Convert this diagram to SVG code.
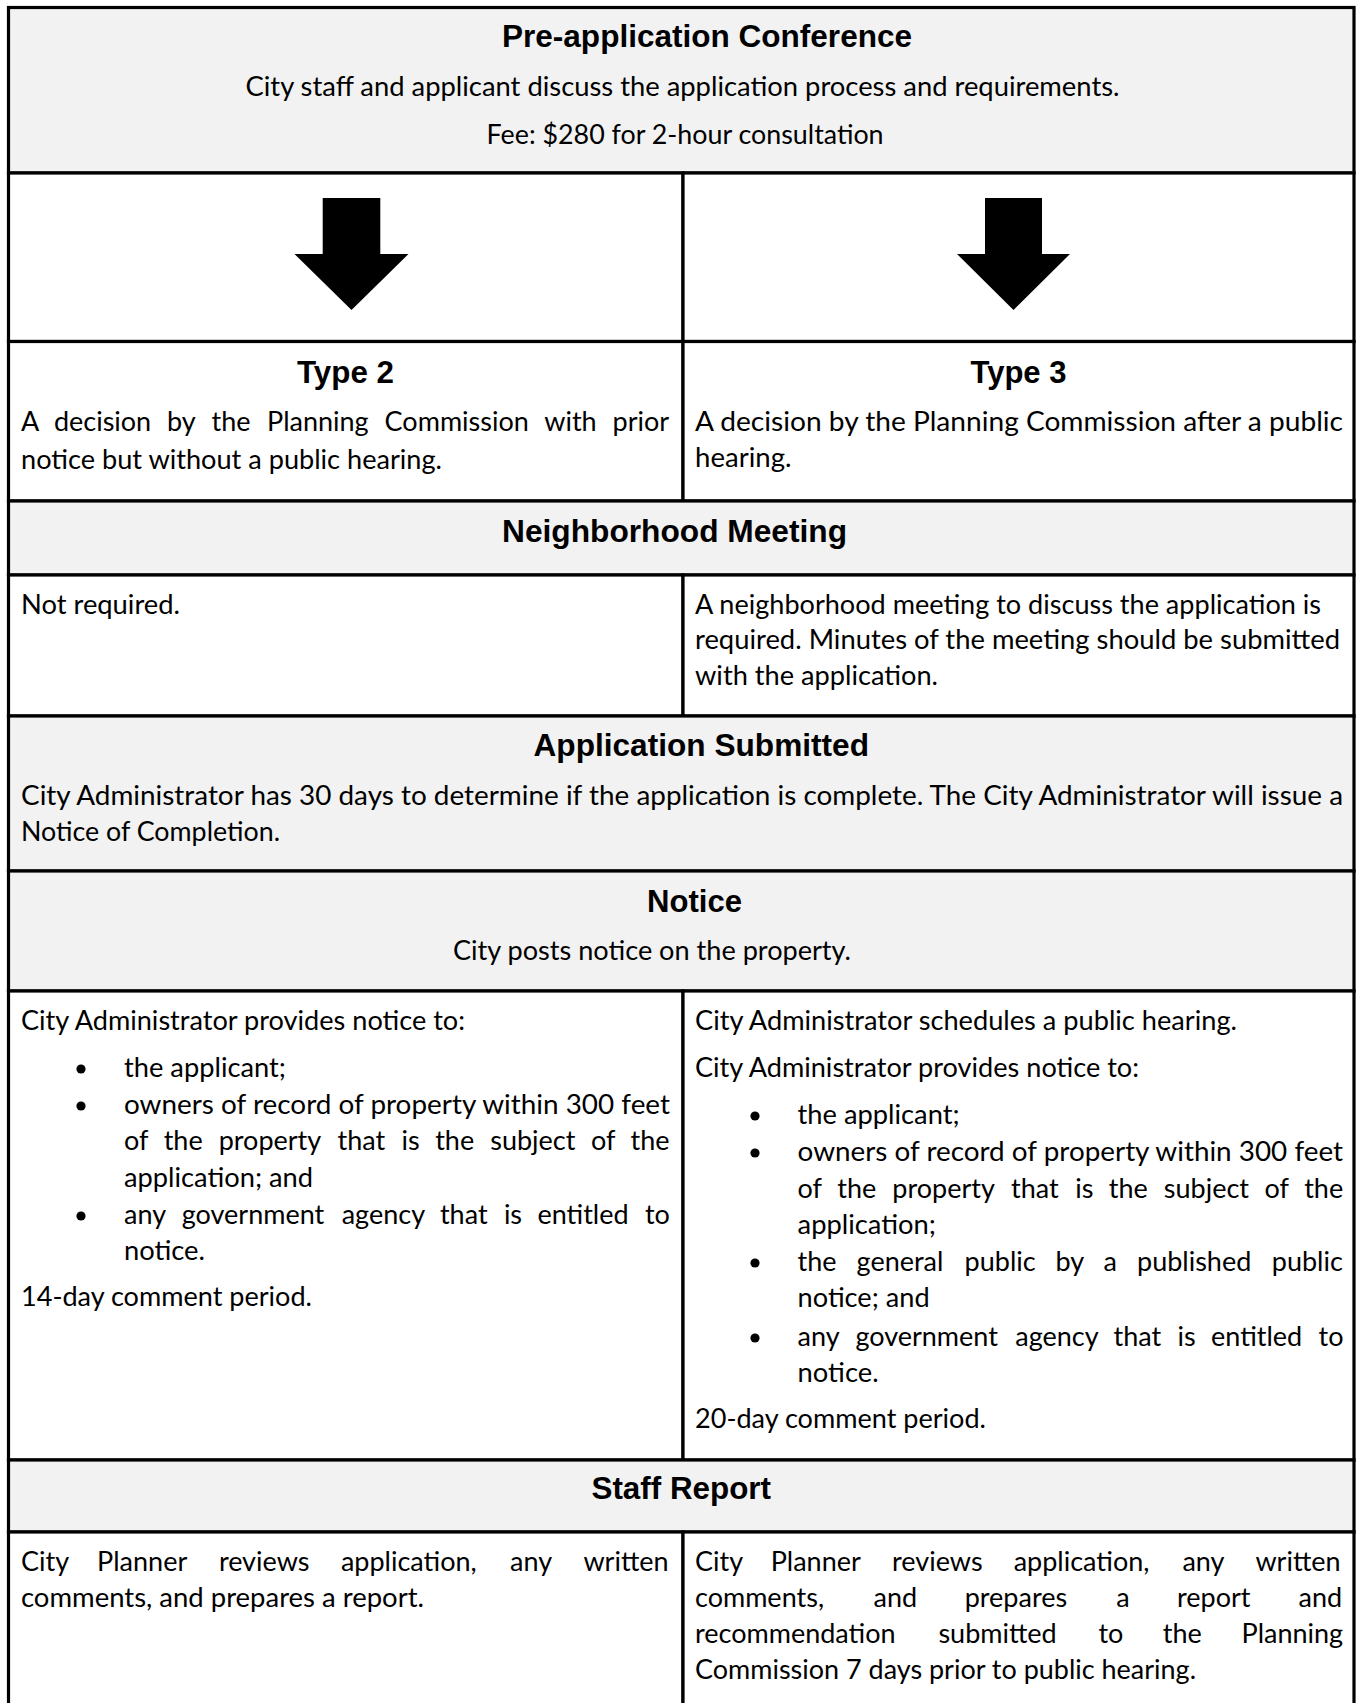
<svg xmlns="http://www.w3.org/2000/svg" width="1357" height="1703" viewBox="0 0 1357 1703">
<style>
.g{fill:#f2f2f2;stroke:#000;stroke-width:3.2}
.w{fill:#fff;stroke:#000;stroke-width:3.2}
.h{font-family:"Liberation Sans",Arial,sans-serif;font-weight:700;font-size:32px;fill:#000}
.b{font-family:Lato,"Open Sans",sans-serif;font-size:27px;fill:#000}
.bl{fill:#000}
.arr{fill:#000}
</style>
<defs>
<circle id="dot" r="4.6" class="bl"/>
</defs>
<rect x="0" y="0" width="1357" height="1703" fill="#fff"/>

<g id="pre-application">
<rect class="g" x="8.5" y="7.5" width="1345.5" height="165.5"/>
<text class="h" x="502" y="47" textLength="410" lengthAdjust="spacingAndGlyphs">Pre-application Conference</text>
<text class="b" x="245.5" y="96" textLength="874" lengthAdjust="spacingAndGlyphs">City staff and applicant discuss the application process and requirements.</text>
<text class="b" x="486.6" y="144" textLength="397" lengthAdjust="spacingAndGlyphs">Fee: $280 for 2-hour consultation</text>
</g>

<g id="arrow-cells">
<rect class="w" x="8.5" y="173" width="674.5" height="168.5"/>
<rect class="w" x="683" y="173" width="671" height="168.5"/>
</g>

<g id="type2">
<rect class="w" x="8.5" y="341.5" width="674.5" height="159.5"/>
<text class="h" x="297" y="383" textLength="97" lengthAdjust="spacingAndGlyphs">Type 2</text>
<text class="b" y="431"><tspan x="21">A</tspan><tspan x="53.9">decision</tspan><tspan x="167">by</tspan><tspan x="211.5">the</tspan><tspan x="267">Planning</tspan><tspan x="384.6">Commission</tspan><tspan x="544.2">with</tspan><tspan x="612.6">prior</tspan></text>
<text class="b" x="21" y="469" textLength="421" lengthAdjust="spacingAndGlyphs">notice but without a public hearing.</text>
</g>

<g id="type3">
<rect class="w" x="683" y="341.5" width="671" height="159.5"/>
<text class="h" x="970.5" y="383" textLength="96" lengthAdjust="spacingAndGlyphs">Type 3</text>
<text class="b" x="695" y="431" textLength="648" lengthAdjust="spacingAndGlyphs">A decision by the Planning Commission after a public</text>
<text class="b" x="695" y="467" textLength="96.5" lengthAdjust="spacingAndGlyphs">hearing.</text>
</g>

<g id="neighborhood-meeting">
<rect class="g" x="8.5" y="501" width="1345.5" height="74"/>
<text class="h" x="502" y="542" textLength="345" lengthAdjust="spacingAndGlyphs">Neighborhood Meeting</text>
</g>

<g id="neighborhood-type2">
<rect class="w" x="8.5" y="575" width="674.5" height="141"/>
<text class="b" x="21" y="614" textLength="159" lengthAdjust="spacingAndGlyphs">Not required.</text>
</g>

<g id="neighborhood-type3">
<rect class="w" x="683" y="575" width="671" height="141"/>
<text class="b" x="695" y="614" textLength="626" lengthAdjust="spacingAndGlyphs">A neighborhood meeting to discuss the application is</text>
<text class="b" x="695" y="649" textLength="645" lengthAdjust="spacingAndGlyphs">required. Minutes of the meeting should be submitted</text>
<text class="b" x="695" y="685" textLength="243" lengthAdjust="spacingAndGlyphs">with the application.</text>
</g>

<g id="application-submitted">
<rect class="g" x="8.5" y="716" width="1345.5" height="155"/>
<text class="h" x="533.5" y="756" textLength="335.5" lengthAdjust="spacingAndGlyphs">Application Submitted</text>
<text class="b" x="21" y="805" textLength="1322" lengthAdjust="spacingAndGlyphs">City Administrator has 30 days to determine if the application is complete. The City Administrator will issue a</text>
<text class="b" x="21" y="841" textLength="259" lengthAdjust="spacingAndGlyphs">Notice of Completion.</text>
</g>

<g id="notice">
<rect class="g" x="8.5" y="871" width="1345.5" height="120"/>
<text class="h" x="647" y="912" textLength="95" lengthAdjust="spacingAndGlyphs">Notice</text>
<text class="b" x="453" y="960" textLength="398" lengthAdjust="spacingAndGlyphs">City posts notice on the property.</text>
</g>

<g id="notice-type2">
<rect class="w" x="8.5" y="991" width="674.5" height="469"/>
<text class="b" x="21" y="1030" textLength="444" lengthAdjust="spacingAndGlyphs">City Administrator provides notice to:</text>
<use href="#dot" x="81" y="1069"/>
<text class="b" x="124" y="1077" textLength="162" lengthAdjust="spacingAndGlyphs">the applicant;</text>
<use href="#dot" x="81" y="1106"/>
<text class="b" x="124" y="1114" textLength="546" lengthAdjust="spacingAndGlyphs">owners of record of property within 300 feet</text>
<text class="b" y="1150"><tspan x="124">of</tspan><tspan x="163.7">the</tspan><tspan x="218.7">property</tspan><tspan x="337.5">that</tspan><tspan x="401.6">is</tspan><tspan x="435.2">the</tspan><tspan x="490.2">subject</tspan><tspan x="590.9">of</tspan><tspan x="630.6">the</tspan></text>
<text class="b" x="124" y="1187" textLength="189" lengthAdjust="spacingAndGlyphs">application; and</text>
<use href="#dot" x="81" y="1216"/>
<text class="b" y="1224"><tspan x="124">any</tspan><tspan x="181.8">government</tspan><tspan x="341.7">agency</tspan><tspan x="439.9">that</tspan><tspan x="503.9">is</tspan><tspan x="537.4">entitled</tspan><tspan x="645">to</tspan></text>
<text class="b" x="124" y="1260" textLength="81" lengthAdjust="spacingAndGlyphs">notice.</text>
<text class="b" x="21" y="1306" textLength="291" lengthAdjust="spacingAndGlyphs">14-day comment period.</text>
</g>

<g id="notice-type3">
<rect class="w" x="683" y="991" width="671" height="469"/>
<text class="b" x="695" y="1030" textLength="542" lengthAdjust="spacingAndGlyphs">City Administrator schedules a public hearing.</text>
<text class="b" x="695" y="1077" textLength="444" lengthAdjust="spacingAndGlyphs">City Administrator provides notice to:</text>
<use href="#dot" x="755" y="1116"/>
<text class="b" x="797.6" y="1124" textLength="162" lengthAdjust="spacingAndGlyphs">the applicant;</text>
<use href="#dot" x="755" y="1153"/>
<text class="b" x="797.6" y="1161" textLength="545.4" lengthAdjust="spacingAndGlyphs">owners of record of property within 300 feet</text>
<text class="b" y="1198"><tspan x="797.6">of</tspan><tspan x="837.3">the</tspan><tspan x="892.3">property</tspan><tspan x="1011.1">that</tspan><tspan x="1075.2">is</tspan><tspan x="1108.8">the</tspan><tspan x="1163.8">subject</tspan><tspan x="1264.5">of</tspan><tspan x="1304.2">the</tspan></text>
<text class="b" x="797.6" y="1234" textLength="138.4" lengthAdjust="spacingAndGlyphs">application;</text>
<use href="#dot" x="755" y="1263"/>
<text class="b" y="1271"><tspan x="797.6">the</tspan><tspan x="856.6">general</tspan><tspan x="964.6">public</tspan><tspan x="1055.5">by</tspan><tspan x="1103.5">a</tspan><tspan x="1137">published</tspan><tspan x="1271.8">public</tspan></text>
<text class="b" x="797.6" y="1307" textLength="132" lengthAdjust="spacingAndGlyphs">notice; and</text>
<use href="#dot" x="755" y="1338"/>
<text class="b" y="1346"><tspan x="797.6">any</tspan><tspan x="855.4">government</tspan><tspan x="1015.3">agency</tspan><tspan x="1113.5">that</tspan><tspan x="1177.5">is</tspan><tspan x="1211">entitled</tspan><tspan x="1318.6">to</tspan></text>
<text class="b" x="797.6" y="1382" textLength="81" lengthAdjust="spacingAndGlyphs">notice.</text>
<text class="b" x="695" y="1428" textLength="291" lengthAdjust="spacingAndGlyphs">20-day comment period.</text>
</g>

<g id="staff-report">
<rect class="g" x="8.5" y="1460" width="1345.5" height="72"/>
<text class="h" x="591.5" y="1499" textLength="179.5" lengthAdjust="spacingAndGlyphs">Staff Report</text>
</g>

<g id="staff-report-type2">
<rect class="w" x="8.5" y="1532" width="674.5" height="190"/>
<text class="b" y="1571"><tspan x="21">City</tspan><tspan x="97.1">Planner</tspan><tspan x="218.9">reviews</tspan><tspan x="340.9">application,</tspan><tspan x="510">any</tspan><tspan x="583.4">written</tspan></text>
<text class="b" x="21" y="1607" textLength="403" lengthAdjust="spacingAndGlyphs">comments, and prepares a report.</text>
</g>

<g id="staff-report-type3">
<rect class="w" x="683" y="1532" width="671" height="190"/>
<text class="b" y="1571"><tspan x="695">City</tspan><tspan x="770.7">Planner</tspan><tspan x="892.1">reviews</tspan><tspan x="1013.7">application,</tspan><tspan x="1182.4">any</tspan><tspan x="1255.4">written</tspan></text>
<text class="b" y="1607"><tspan x="695">comments,</tspan><tspan x="873.6">and</tspan><tspan x="964.7">prepares</tspan><tspan x="1116.3">a</tspan><tspan x="1177">report</tspan><tspan x="1298.6">and</tspan></text>
<text class="b" y="1643"><tspan x="695">recommendation</tspan><tspan x="938.4">submitted</tspan><tspan x="1098.5">to</tspan><tspan x="1162.8">the</tspan><tspan x="1241.5">Planning</tspan></text>
<text class="b" x="695" y="1679" textLength="501" lengthAdjust="spacingAndGlyphs">Commission 7 days prior to public hearing.</text>
</g>

<g id="connectors">
<polygon class="arr" points="322.7,198 380.3,198 380.3,254 408.5,254 351.5,310 294.5,254 322.7,254"/>
<polygon class="arr" points="985,198 1042,198 1042,254 1070,254 1013.5,310 957,254 985,254"/>
</g>
</svg>
